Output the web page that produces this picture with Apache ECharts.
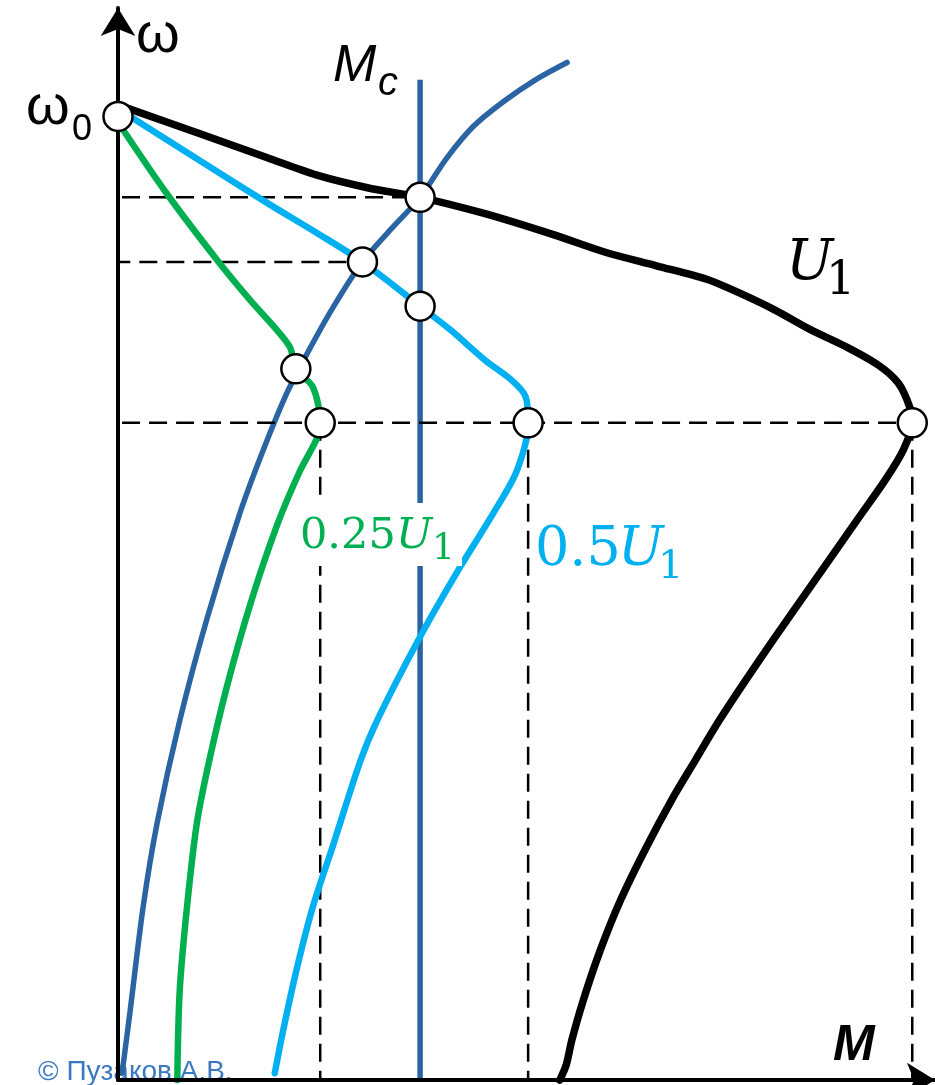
<!DOCTYPE html>
<html>
<head>
<meta charset="utf-8">
<script src="https://cdn.jsdelivr.net/npm/echarts@6/dist/echarts.min.js"></script>
<style>
  html, body { margin: 0; padding: 0; background: #fff; }
  #chart { width: 935px; height: 1085px; }
</style>
</head>
<body>
<div id="chart"></div>
<script>
// Mechanical characteristics ω(M) of an induction motor at rated and reduced supply voltage.
// Every curve is a list of [M, ω] pairs.

const curveU1 = [
  [0, 101.2], [10.1, 98.2], [18.4, 95.7], [24.5, 93.9], [30.7, 92.6], [37.2, 91.6],
  [45.2, 89.9], [53.7, 87.7], [60.0, 85.9], [66.3, 84.5], [72.5, 83.1], [76.7, 81.6],
  [80.9, 79.9], [85.2, 77.9], [89.4, 76.2], [93.6, 74.2], [96.1, 72.3], [97.5, 69.8],
  [97.8, 68.2], [96.7, 65.4], [94.5, 62.3], [91.0, 58.1], [87.6, 54.0], [84.1, 49.8],
  [80.7, 45.7], [77.3, 41.5], [74.1, 37.4], [71.1, 33.2], [68.2, 29.1], [64.9, 23.9],
  [61.9, 18.7], [59.4, 13.5], [57.3, 8.3], [55.9, 4.2], [55.2, 1.6], [54.4, 0]
];

const curveHalfU1 = [
  [0, 100.8], [10.1, 95.4], [18.4, 91.0], [24.5, 87.9], [30.1, 84.9], [37.2, 80.3],
  [41.0, 77.8], [45.2, 74.7], [48.5, 72.6], [50.2, 70.9], [50.5, 68.2], [49.1, 63.2],
  [46.2, 58.8], [42.1, 53.2], [37.2, 46.0], [31.9, 37.3], [29.8, 33.0], [26.5, 24.4],
  [24.0, 18.0], [22.0, 11.5], [20.3, 5.0], [19.3, 0.7]
];

const curveQuarterU1 = [
  [0, 99.4], [6.0, 92.0], [12.2, 85.1], [16.3, 80.9], [19.6, 77.8], [21.2, 76.0],
  [21.9, 73.8], [24.0, 71.9], [24.9, 68.2], [24.5, 66.6], [22.4, 63.2], [19.6, 57.6],
  [16.3, 49.4], [13.4, 40.8], [11.2, 33.0], [9.7, 26.6], [8.5, 18.0], [7.6, 9.3], [7.3, 0]
];

// load characteristic
const loadCurve = [
  [55.3, 105.6], [51.4, 103.8], [47.4, 101.5], [43.8, 99.0], [40.5, 95.7], [37.2, 91.6],
  [33.5, 88.2], [30.1, 84.9], [26.5, 80.2], [23.3, 75.4], [20.8, 71.3], [17.9, 65.4],
  [15.0, 58.8], [11.0, 48.0], [7.6, 37.3], [4.8, 26.6], [3.1, 18.0], [1.5, 7.2], [0.5, 0.7]
];

// constant load torque Mc
const mcTorque = 37.2;
const mcTop = 103.8;

// ideal no-load speed
const omega0 = 100;

// operating points (intersections with Mc and with the load curve)
const workPoints = [[37.2, 91.6], [30.1, 84.9], [37.2, 80.3], [21.9, 73.8]];

// critical (breakdown) points: common speed, torque for 0.25U1, 0.5U1, U1
const criticalOmega = 68.2;
const criticalTorque = [24.9, 50.5, 97.8];

// dashed speed guides: [start M, end M, ω]
const speedGuides = [[0.5, 37.2, 91.6], [-0.7, 30.1, 84.9], [0.5, 97.8, 68.2]];

const DARK_BLUE = '#2B64A3';
const LIGHT_BLUE = '#00B0F0';
const GREEN = '#00B050';

const chart = echarts.init(document.getElementById('chart'), null, { renderer: 'canvas' });

function curve(name, data, color, width, z) {
  return {
    name, type: 'line', data, smooth: 0.3, symbol: 'none', clip: false, z,
    lineStyle: { color, width, cap: 'round', join: 'round' }
  };
}

const DASH = { color: '#000', width: 2.5, type: [18, 9] };
const guideSeries = [];
speedGuides.forEach(([m1, m2, w]) => {
  guideSeries.push({
    type: 'line', data: [[m1, w], [m2, w]], symbol: 'none', clip: false, z: 3, lineStyle: DASH
  });
});
criticalTorque.forEach(m => {
  guideSeries.push({
    type: 'line', data: [[m, criticalOmega], [m, 0]], symbol: 'none', clip: false, z: 3, lineStyle: DASH
  });
});

const markerPoints = [[0, omega0]]
  .concat(workPoints)
  .concat(criticalTorque.map(m => [m, criticalOmega]));

function txt(x, y, text, font, fill, z) {
  return {
    type: 'text', x, y, z: z == null ? 20 : z,
    style: {
      text, font, fill,
      textAlign: 'left', align: 'left',
      textVerticalAlign: 'middle', verticalAlign: 'middle'
    }
  };
}

const SANS = '"Liberation Sans", Arial, sans-serif';
const SERIF = '"DejaVu Serif", serif';

const axisCommon = {
  type: 'value',
  axisTick: { show: false },
  axisLabel: { show: false },
  splitLine: { show: false },
  z: 5,
  axisLine: {
    show: true,
    symbol: ['none', 'arrow'],
    symbolSize: [26, 28],
    lineStyle: { color: '#000', width: 4 }
  }
};

chart.setOption({
  animation: false,
  backgroundColor: '#fff',
  grid: { left: 118, right: 0, top: 8, bottom: 5, containLabel: false },
  xAxis: Object.assign({}, axisCommon, { min: 0, max: 100.6 }),
  yAxis: Object.assign({}, axisCommon, { min: 0, max: 111.25 }),
  series: [
    curve('load', loadCurve, DARK_BLUE, 5.5, 2),
    {
      name: 'Mc', type: 'line', data: [[mcTorque, 0], [mcTorque, mcTop]], symbol: 'none', clip: false, z: 2,
      lineStyle: { color: DARK_BLUE, width: 5.5 }
    },
    ...guideSeries,
    curve('0.25U1', curveQuarterU1, GREEN, 6.5, 4),
    curve('0.5U1', curveHalfU1, LIGHT_BLUE, 6.5, 4),
    curve('U1', curveU1, '#000', 7.5, 4),
    {
      type: 'scatter', data: markerPoints, symbol: 'circle', symbolSize: 29, z: 6, clip: false,
      itemStyle: { color: '#fff', borderColor: '#000', borderWidth: 2.5, opacity: 1 }
    }
  ],
  graphic: [
    txt(38, 1072, '© Пузаков А.В.', '28px ' + SANS, '#3A78C2', 1),
    // white box behind the 0.25U1 caption
    { type: 'rect', z: 19, shape: { x: 298, y: 503, width: 164, height: 63 }, style: { fill: '#fff' } },
    txt(136, 37, 'ω', '56px ' + SANS, '#000'),
    txt(26, 109, 'ω', '56px ' + SANS, '#000'),
    txt(72, 130, '0', '36px ' + SANS, '#000'),
    txt(333, 67, 'M', 'italic 52px ' + SANS, '#000'),
    txt(378, 84, 'c', 'italic 40px ' + SANS, '#000'),
    txt(786, 264, 'U', 'italic 56px ' + SERIF, '#000'),
    txt(826, 282, '1', '46px ' + SERIF, '#000'),
    txt(300, 537, '0.25', '43px ' + SERIF, GREEN),
    txt(396, 537, 'U', 'italic 43px ' + SERIF, GREEN),
    txt(432, 550, '1', '36px ' + SERIF, GREEN),
    txt(535, 551, '0.5', '54px ' + SERIF, LIGHT_BLUE),
    txt(618, 551, 'U', 'italic 54px ' + SERIF, LIGHT_BLUE),
    txt(658, 568, '1', '40px ' + SERIF, LIGHT_BLUE),
    txt(833, 1046, 'M', 'italic bold 50px ' + SANS, '#000')
  ]
});
</script>
</body>
</html>
